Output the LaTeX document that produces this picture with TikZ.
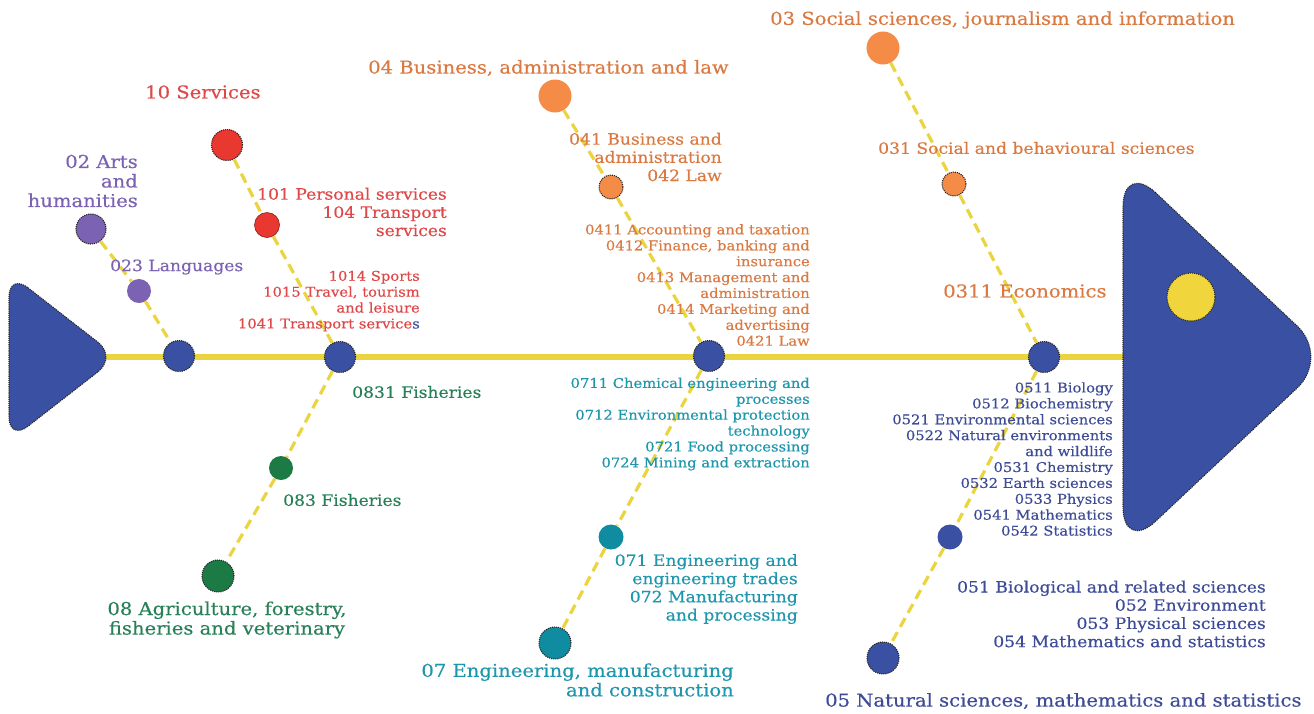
\documentclass[tikz,border=0pt]{standalone}
\usepackage{fontspec}
\setmainfont{DejaVu Serif}[FakeStretch=1.1, FakeBold=0.4]
\usetikzlibrary{positioning}
\lineskiplimit=-20pt

\definecolor{spineblue}{RGB}{58,80,162}
\definecolor{boneyellow}{RGB}{234,212,64}
\definecolor{sunyellow}{RGB}{240,214,60}
\definecolor{artpurple}{RGB}{124,98,178}
\definecolor{servred}{RGB}{232,56,48}
\definecolor{servtext}{RGB}{222,72,72}
\definecolor{agrgreen}{RGB}{28,122,68}
\definecolor{agrtext}{RGB}{40,128,88}
\definecolor{busorange}{RGB}{244,140,72}
\definecolor{bustext}{RGB}{218,122,66}
\definecolor{engteal}{RGB}{16,140,160}
\definecolor{engtext}{RGB}{30,150,172}
\definecolor{scitext}{RGB}{62,76,152}

\tikzset{
  bone/.style={draw=boneyellow, line width=5.5pt},
  twig/.style={draw=boneyellow, line width=3.2pt, dash pattern=on 10pt off 6pt},
  rim/.style={draw=black!85, densely dotted, line width=1.1pt},
  dot/.style={circle, inner sep=0pt, minimum size=#1},
  joint/.style={dot=31pt, fill=spineblue, rim},
  lbig/.style={font=\fontsize{17.8}{19.5}\selectfont, inner sep=0pt},
  lmid/.style={font=\fontsize{15.6}{18.2}\selectfont, inner sep=0pt, align=right},
  lsmall/.style={font=\fontsize{13.4}{15.9}\selectfont, inner sep=0pt, align=right}
}

\begin{document}
\begin{tikzpicture}[x=1pt, y=-1pt]
\useasboundingbox (0,0) rectangle (1314,713);

\coordinate (tailtip) at (100,357);
\coordinate (headback) at (1130,357);
\draw[bone] (tailtip) -- (headback); %spine

\filldraw[fill=spineblue, rim, rounded corners=24pt] (9,273) -- (117,357) -- (9,441) -- cycle; %tail
\filldraw[fill=spineblue, rim, rounded corners=45pt] (1123,162) -- (1330,357) -- (1123,552) -- cycle; %head
\node[dot=48pt, fill=sunyellow, rim] (sun) at (1191,297) {};

% joints on the spine
\node[joint] (j1) at (179,356) {};
\node[joint] (j2) at (340,357) {};
\node[joint] (j3) at (709,356) {};
\node[joint] (j4) at (1044,357) {};

% upper bones
\node[dot=30pt, fill=artpurple, rim] (c02) at (91,229) {};
\node[dot=24pt, fill=artpurple] (c023) at (139,291) {};
\node[dot=31pt, fill=servred, rim] (c10) at (227,145) {};
\node[dot=25pt, fill=servred, draw=servred!60!black, line width=0.6pt] (c101) at (267,225) {};
\node[dot=33pt, fill=busorange] (c04) at (555,96) {};
\node[dot=24pt, fill=busorange, rim] (c041) at (611,187) {};
\node[dot=33pt, fill=busorange] (c03) at (883,48) {};
\node[dot=24pt, fill=busorange, rim] (c031) at (954,184) {};

% lower bones
\node[dot=24pt, fill=agrgreen] (c083) at (281,468) {};
\node[dot=32pt, fill=agrgreen, rim] (c08) at (218,576) {};
\node[dot=25pt, fill=engteal] (c071) at (611,537) {};
\node[dot=32pt, fill=engteal, rim] (c07) at (555,643) {};
\node[dot=25pt, fill=spineblue] (c051) at (950,537) {};
\node[dot=32pt, fill=spineblue, rim] (c05) at (883,658) {};

\draw[twig] (c02) -- (c023);
\draw[twig] (c023) -- (j1);
\draw[twig] (c10) -- (c101);
\draw[twig] (c101) -- (j2);
\draw[twig] (c04) -- (c041);
\draw[twig] (c041) -- (j3);
\draw[twig] (c03) -- (c031);
\draw[twig] (c031) -- (j4);
\draw[twig] (j2) -- (c083);
\draw[twig] (c083) -- (c08);
\draw[twig] (j3) -- (c071);
\draw[twig] (c071) -- (c07);
\draw[twig] (j4) -- (c051);
\draw[twig] (c051) -- (c05);

% labels, 02
\node[lbig, artpurple, align=right, anchor=east] (t02) at (138,181) {02 Arts\\and\\humanities};
\node[lmid, artpurple, anchor=west] (t023) at (110,267) {023 Languages};

% labels, 10
\node[lbig, servtext, anchor=west] (t10) at (145,92) {10 Services};
\node[lmid, servtext, anchor=east] (t101) at (447,212) {101 Personal services\\104 Transport\\services};
\node[lsmall, servtext, anchor=east] (t1014) at (420,301) {1014 Sports\\1015 Travel, tourism \\and leisure\\1041 Transport service{\color{spineblue}s}};

% labels, 08
\node[lmid, agrtext, anchor=west] (t0831) at (352,392) {0831 Fisheries};
\node[lmid, agrtext, anchor=west] (t083) at (283,500) {083 Fisheries};
\node[lbig, agrtext, align=center, anchor=center] (t08) at (227,620) {08 Agriculture, forestry,\\fisheries and veterinary};

% labels, 04
\node[lbig, bustext, anchor=west] (t04) at (368,68) {04 Business, administration and law};
\node[lmid, bustext, anchor=east] (t041) at (722,157) {041 Business and \\administration\\042 Law};
\node[lsmall, bustext, anchor=east] (t0411) at (810,285) {0411 Accounting and taxation\\0412 Finance, banking and\\insurance\\0413 Management and\\administration\\0414 Marketing and \\advertising\\0421 Law};

% labels, 07
\node[lsmall, engtext, anchor=east] (t0711) at (810,424) {0711 Chemical engineering and\\processes\\0712 Environmental protection\\technology\\0721 Food processing\\0724 Mining and extraction};
\node[lmid, engtext, anchor=east] (t071) at (798,589) {071 Engineering and\\engineering trades\\072 Manufacturing\\and processing};
\node[lbig, engtext, align=right, anchor=east] (t07) at (734,680) {07 Engineering, manufacturing\\and construction};

% labels, 03
\node[lbig, bustext, anchor=west] (t03) at (770,20) {03 Social sciences, journalism and information};
\node[lmid, bustext, anchor=west] (t031) at (878,148) {031 Social and behavioural sciences};
\node[lbig, bustext, anchor=west] (t0311) at (943,291) {0311 Economics};

% labels, 05
\node[lsmall, scitext, anchor=east] (t0511) at (1113,459) {0511 Biology\\0512 Biochemistry\\0521 Environmental sciences\\0522 Natural environments\\and wildlife\\0531 Chemistry\\0532 Earth sciences\\0533 Physics\\0541 Mathematics\\0542 Statistics};
\node[lmid, scitext, anchor=east] (t051) at (1266,614) {051 Biological and related sciences\\052 Environment\\053 Physical sciences\\054 Mathematics and statistics};
\node[lbig, scitext, anchor=west] (t05) at (825,701) {05 Natural sciences, mathematics and statistics};

\end{tikzpicture}
\end{document}
